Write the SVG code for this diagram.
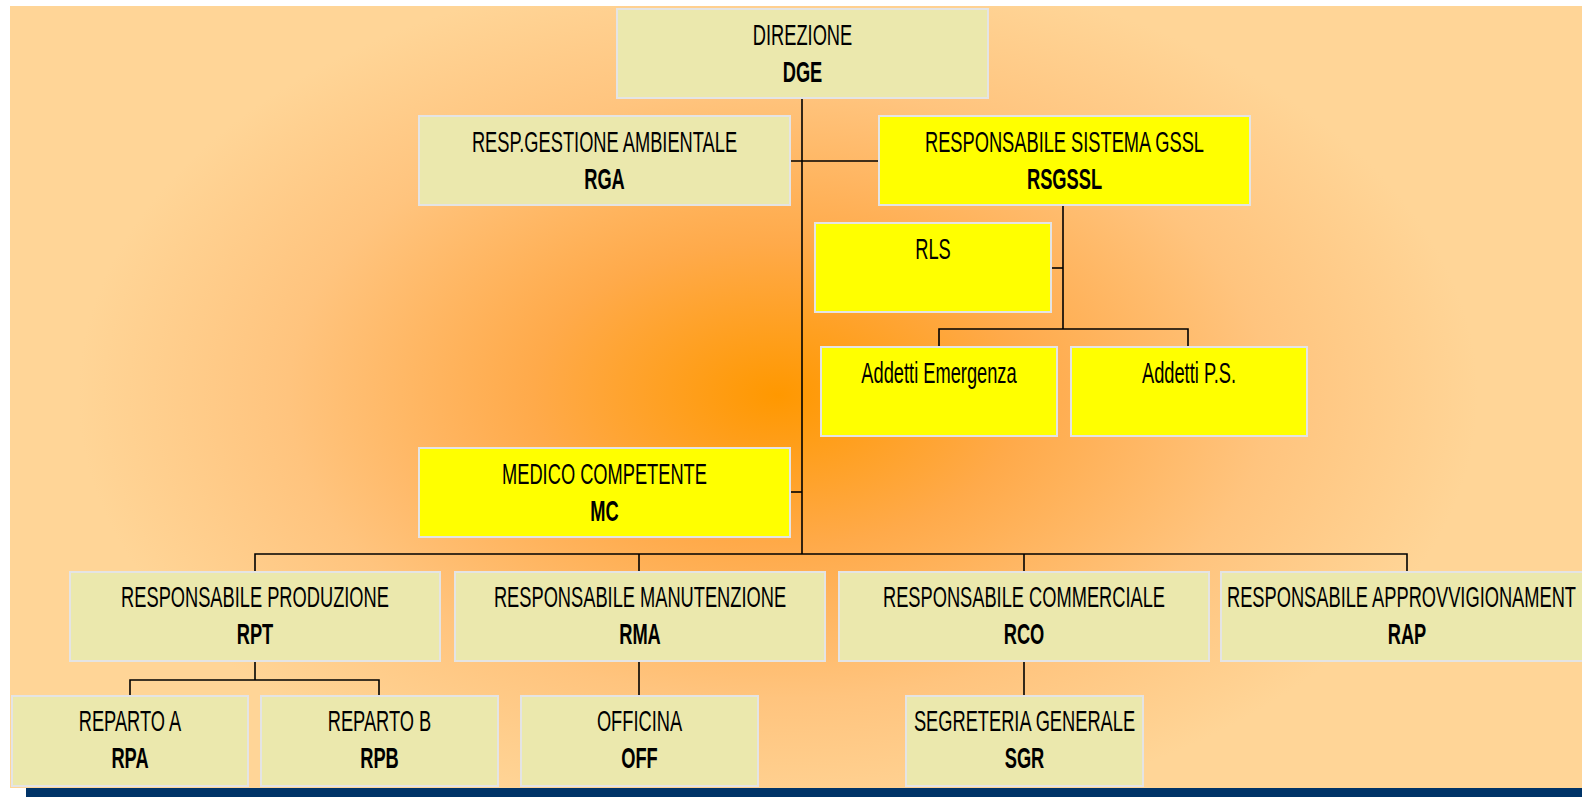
<svg xmlns="http://www.w3.org/2000/svg" width="1582" height="797" viewBox="0 0 1582 797">
<defs>
<radialGradient id="bg" gradientUnits="userSpaceOnUse" cx="778" cy="395" r="700" gradientTransform="translate(778 395) scale(1 0.62) translate(-778 -395)">
<stop offset="0" stop-color="#FF9800"/>
<stop offset="0.35" stop-color="#FFAA4A"/>
<stop offset="0.7" stop-color="#FFC47E"/>
<stop offset="1" stop-color="#FFD597"/>
</radialGradient>
<style>
.n{fill:#EBE8AD;stroke:#E4E4E4;stroke-width:2}
.y{fill:#FFFF00;stroke:#E4E4E4;stroke-width:2}
.t{font-family:"Liberation Sans",Arial,sans-serif;font-size:29px;fill:#000;text-anchor:middle}
.b{font-weight:bold}
.c{stroke:#000;stroke-width:1.6;fill:none}
</style>
</defs>
<rect width="1582" height="797" fill="#FFFFFF"/>
<rect x="10" y="6" width="1572" height="782" fill="url(#bg)"/>
<rect x="26" y="788" width="1556" height="9" fill="#003468"/>
<g id="connectors" class="c">
<path d="M802 98V554"/>
<path d="M790 161H879"/>
<path d="M1063 205V329"/>
<path d="M1051 268H1063"/>
<path d="M939 347V329H1188V347"/>
<path d="M790 492H802"/>
<path d="M255 572V554H1407V572"/>
<path d="M639 554V572"/>
<path d="M1024 554V572"/>
<path d="M255 661V680"/>
<path d="M130 696V680H379V696"/>
<path d="M639 661V696"/>
<path d="M1024 661V696"/>
</g>
<g id="DGE"><rect class="n" x="617" y="9" width="371" height="89"/>
<text class="t" transform="matrix(0.63 0 0 1 802.5 0)" x="0" y="45">DIREZIONE</text>
<text class="t b" transform="matrix(0.63 0 0 1 802.5 0)" x="0" y="82">DGE</text></g>
<g id="RGA"><rect class="n" x="419" y="116" width="371" height="89"/>
<text class="t" transform="matrix(0.63 0 0 1 604.5 0)" x="0" y="152">RESP.GESTIONE AMBIENTALE</text>
<text class="t b" transform="matrix(0.63 0 0 1 604.5 0)" x="0" y="189">RGA</text></g>
<g id="RSGSSL"><rect class="y" x="879" y="116" width="371" height="89"/>
<text class="t" transform="matrix(0.63 0 0 1 1064.5 0)" x="0" y="152">RESPONSABILE SISTEMA GSSL</text>
<text class="t b" transform="matrix(0.63 0 0 1 1064.5 0)" x="0" y="189">RSGSSL</text></g>
<g id="RLS"><rect class="y" x="815" y="223" width="236" height="89"/>
<text class="t" transform="matrix(0.63 0 0 1 933 0)" x="0" y="259">RLS</text></g>
<g id="AE"><rect class="y" x="821" y="347" width="236" height="89"/>
<text class="t" transform="matrix(0.63 0 0 1 939 0)" x="0" y="383">Addetti Emergenza</text></g>
<g id="APS"><rect class="y" x="1071" y="347" width="236" height="89"/>
<text class="t" transform="matrix(0.63 0 0 1 1189 0)" x="0" y="383">Addetti P.S.</text></g>
<g id="MC"><rect class="y" x="419" y="448" width="371" height="89"/>
<text class="t" transform="matrix(0.63 0 0 1 604.5 0)" x="0" y="484">MEDICO COMPETENTE</text>
<text class="t b" transform="matrix(0.63 0 0 1 604.5 0)" x="0" y="521">MC</text></g>
<g id="RPT"><rect class="n" x="70" y="572" width="370" height="89"/>
<text class="t" transform="matrix(0.63 0 0 1 255 0)" x="0" y="607">RESPONSABILE PRODUZIONE</text>
<text class="t b" transform="matrix(0.63 0 0 1 255 0)" x="0" y="644">RPT</text></g>
<g id="RMA"><rect class="n" x="455" y="572" width="370" height="89"/>
<text class="t" transform="matrix(0.63 0 0 1 640 0)" x="0" y="607">RESPONSABILE MANUTENZIONE</text>
<text class="t b" transform="matrix(0.63 0 0 1 640 0)" x="0" y="644">RMA</text></g>
<g id="RCO"><rect class="n" x="839" y="572" width="370" height="89"/>
<text class="t" transform="matrix(0.63 0 0 1 1024 0)" x="0" y="607">RESPONSABILE COMMERCIALE</text>
<text class="t b" transform="matrix(0.63 0 0 1 1024 0)" x="0" y="644">RCO</text></g>
<g id="RAP"><rect class="n" x="1221" y="572" width="372" height="89"/>
<text class="t" style="text-anchor:start" transform="matrix(0.63 0 0 1 1227 0)" x="0" y="607">RESPONSABILE APPROVVIGIONAMENT</text>
<text class="t b" transform="matrix(0.63 0 0 1 1407 0)" x="0" y="644">RAP</text></g>
<g id="RPA"><rect class="n" x="12" y="696" width="236" height="90"/>
<text class="t" transform="matrix(0.63 0 0 1 130 0)" x="0" y="731">REPARTO A</text>
<text class="t b" transform="matrix(0.63 0 0 1 130 0)" x="0" y="768">RPA</text></g>
<g id="RPB"><rect class="n" x="261" y="696" width="237" height="90"/>
<text class="t" transform="matrix(0.63 0 0 1 379.5 0)" x="0" y="731">REPARTO B</text>
<text class="t b" transform="matrix(0.63 0 0 1 379.5 0)" x="0" y="768">RPB</text></g>
<g id="OFF"><rect class="n" x="521" y="696" width="237" height="90"/>
<text class="t" transform="matrix(0.63 0 0 1 639.5 0)" x="0" y="731">OFFICINA</text>
<text class="t b" transform="matrix(0.63 0 0 1 639.5 0)" x="0" y="768">OFF</text></g>
<g id="SGR"><rect class="n" x="906" y="696" width="237" height="90"/>
<text class="t" transform="matrix(0.63 0 0 1 1024.5 0)" x="0" y="731">SEGRETERIA GENERALE</text>
<text class="t b" transform="matrix(0.63 0 0 1 1024.5 0)" x="0" y="768">SGR</text></g>
</svg>
